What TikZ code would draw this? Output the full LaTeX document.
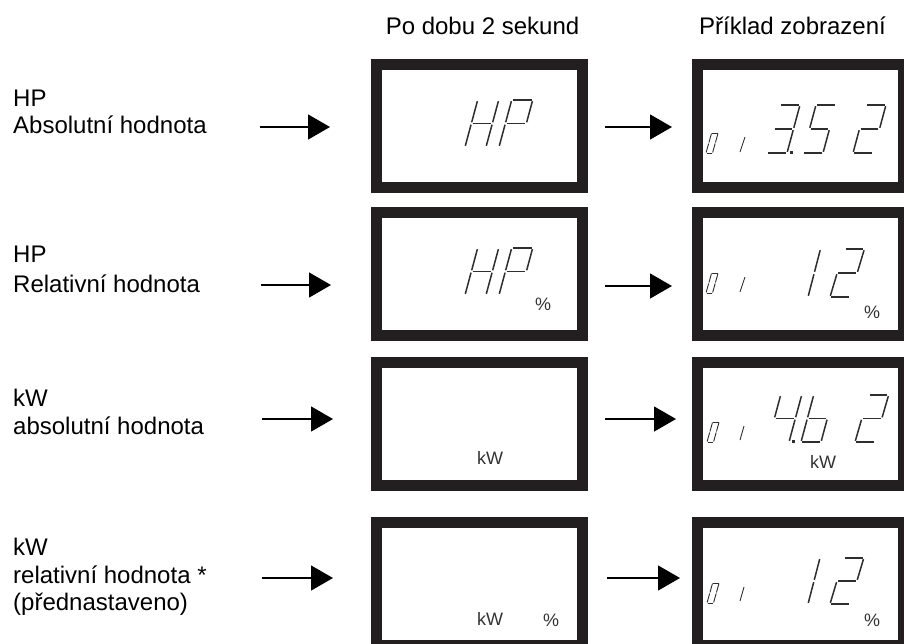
\documentclass[tikz,border=0pt]{standalone}
\usepackage{fontspec}
\setmainfont{Liberation Sans}
\usetikzlibrary{arrows.meta}

\definecolor{framecol}{HTML}{231F20}
\definecolor{segcol}{HTML}{2E2E2E}
\definecolor{unitcol}{HTML}{333333}

% seven-segment pieces, drawn in the local frame of one digit cell
% (origin at the bottom-left corner, "up" is negative y)
\newcommand\lcdSega{\draw[segline] (\sgap,{-\dh}) -- ({\dw-\sgap},{-\dh});}
\newcommand\lcdSegb{\draw[segline] (\dw,{-\dh+\sgap}) -- (\dw,{-\dh/2-\sgap});}
\newcommand\lcdSegc{\draw[segline] (\dw,{-\dh/2+\sgap}) -- (\dw,{-\sgap});}
\newcommand\lcdSegd{\draw[segline] (\sgap,0) -- ({\dw-\sgap},0);}
\newcommand\lcdSege{\draw[segline] (0,{-\dh/2+\sgap}) -- (0,{-\sgap});}
\newcommand\lcdSegf{\draw[segline] (0,{-\dh+\sgap}) -- (0,{-\dh/2-\sgap});}
\newcommand\lcdSegg{\draw[segline] (\sgap,{-\dh/2}) -- ({\dw-\sgap},{-\dh/2});}

% [style] {x}{y}{width}{height}{slant}{segments}
\newcommand\lcdDigit[7][segbig]{%
  \begin{scope}[#1, shift={(#2,#3)}, xslant=#6]
    \def\dw{#4}\def\dh{#5}%
    \pgfmathsetmacro\sgap{#5*0.025}%
    \foreach \s in {#7}{\csname lcdSeg\s\endcsname}%
  \end{scope}}

\tikzset{
  segline/.style={draw=segcol, line width=1.5pt},
  segbig/.style={segline/.style={draw=segcol, line width=1.5pt}},
  segsmall/.style={segline/.style={draw=segcol, line width=0.9pt}},
  display/.style={draw=framecol, line width=11pt, fill=white,
    minimum width=206pt, minimum height=123pt, inner sep=0pt},
  label/.style={anchor=base west, inner sep=0pt, font=\fontsize{24}{28}\selectfont},
  header/.style={anchor=base, inner sep=0pt, font=\fontsize{24}{28}\selectfont},
  unit/.style={inner sep=0pt, text=unitcol, font=\fontsize{18}{18}\selectfont},
  flow/.style={line width=1.3pt, -{Triangle[length=22pt,width=25pt]}},
  onesmall/.style={draw=segcol, line width=0.9pt},
  dotpt/.style={fill=segcol}
}

\begin{document}
\begin{tikzpicture}[x=1pt,y=-1pt]
\useasboundingbox (0,0) rectangle (904,643);
\clip (0,0) rectangle (904,643);

% column headings
\node[header] (h1) at (482.5,34) {Po dobu 2 sekund};
\node[header] (h2) at (792.5,34) {Příklad zobrazení};

% row labels
\node[label] (l1a) at (13,106) {HP};
\node[label] (l1b) at (13,133) {Absolutní hodnota};
\node[label] (l2a) at (13,262) {HP};
\node[label] (l2b) at (13,292) {Relativní hodnota};
\node[label] (l3a) at (13,406) {kW};
\node[label] (l3b) at (13,434) {absolutní hodnota};
\node[label] (l4a) at (13,555) {kW};
\node[label] (l4b) at (13,583) {relativní hodnota *};
\node[label] (l4c) at (13,610) {(přednastaveno)};

% display frames
\node[display] (d1) at (479.5,125.5) {};
\node[display] (d2) at (479.5,274) {};
\node[display] (d3) at (479.5,423.5) {};
\node[display] (d4) at (479.5,583.5) {};
\node[display] (e1) at (800.5,125.5) {};
\node[display] (e2) at (800.5,274) {};
\node[display] (e3) at (800.5,423.5) {};
\node[display] (e4) at (800.5,583.5) {};

% arrow start points
\coordinate (s1) at (260,127);
\coordinate (s2) at (261,285);
\coordinate (s3) at (262,419);
\coordinate (s4) at (262,578);

% arrows into the first column
\draw[flow, shorten >=41pt] (s1) -- (s1 -| d1.west);
\draw[flow, shorten >=40pt] (s2) -- (s2 -| d2.west);
\draw[flow, shorten >=38pt] (s3) -- (s3 -| d3.west);
\draw[flow, shorten >=38pt] (s4) -- (s4 -| d4.west);

% arrows into the second column
\draw[flow, shorten <=17pt, shorten >=20pt] ([yshift=-1.5pt]d1.east) -- ([yshift=-1.5pt]e1.west);
\draw[flow, shorten <=17pt, shorten >=20pt] ([yshift=-12pt]d2.east) -- ([yshift=-12pt]e2.west);
\draw[flow, shorten <=17pt, shorten >=16pt] ([yshift=4.5pt]d3.east) -- ([yshift=4.5pt]e3.west);
\draw[flow, shorten <=19pt, shorten >=12pt] ([yshift=5.5pt]d4.east) -- ([yshift=5.5pt]e4.west);

% first column: HP
\lcdDigit{465}{147}{21}{47}{0.27}{b,c,e,f,g}
\lcdDigit{499}{147}{21}{47}{0.27}{a,b,e,f,g}
\lcdDigit{465}{295}{21}{47}{0.27}{b,c,e,f,g}
\lcdDigit{499}{295}{21}{47}{0.27}{a,b,e,f,g}
\node[unit] (p1) at (543,304) {\%};
\node[unit] (k1) at (490,458) {kW};
\node[unit] (k2) at (490,619) {kW};
\node[unit] (p2) at (551,620) {\%};

% second column: channel number 01
\lcdDigit[segsmall]{706}{153}{6.5}{20}{0.28}{a,b,c,d,e,f}
\draw[onesmall] (740,152) -- (745,137);
\lcdDigit[segsmall]{706}{293}{6.5}{20}{0.28}{a,b,c,d,e,f}
\draw[onesmall] (740,292) -- (745,277);
\lcdDigit[segsmall]{707}{442}{6.5}{20}{0.28}{a,b,c,d,e,f}
\draw[onesmall] (740,440) -- (744,426);
\lcdDigit[segsmall]{707}{603}{6.5}{20}{0.28}{a,b,c,d,e,f}
\draw[onesmall] (740,601) -- (744,587);

% 3.52
\lcdDigit{767}{153}{20}{48}{0.27}{a,b,c,d,g}
\fill[dotpt] (789.5,151) rectangle (792.5,154);
\lcdDigit{803}{153}{20}{48}{0.27}{a,f,g,c,d}
\lcdDigit{853}{153}{20}{48}{0.27}{a,b,g,e,d}

% 12 %
\lcdDigit{788}{297}{20}{48}{0.26}{b,c}
\lcdDigit{830}{297}{20}{48}{0.30}{a,b,g,e,d}
\node[unit] (p3) at (872,312) {\%};

% 4.b2 kW
\lcdDigit{768}{442}{21}{47}{0.27}{f,g,b,c}
\fill[dotpt] (792,440) rectangle (795,443);
\lcdDigit{801}{442}{20}{47}{0.27}{f,e,g,c,d}
\lcdDigit{855}{442}{20}{47}{0.29}{a,b,g,e,d}
\node[unit] (k3) at (823,462) {kW};

% 12 %
\lcdDigit{788}{604}{20}{46}{0.26}{b,c}
\lcdDigit{830}{604}{20}{46}{0.30}{a,b,g,e,d}
\node[unit] (p4) at (872,620) {\%};
\end{tikzpicture}
\end{document}
